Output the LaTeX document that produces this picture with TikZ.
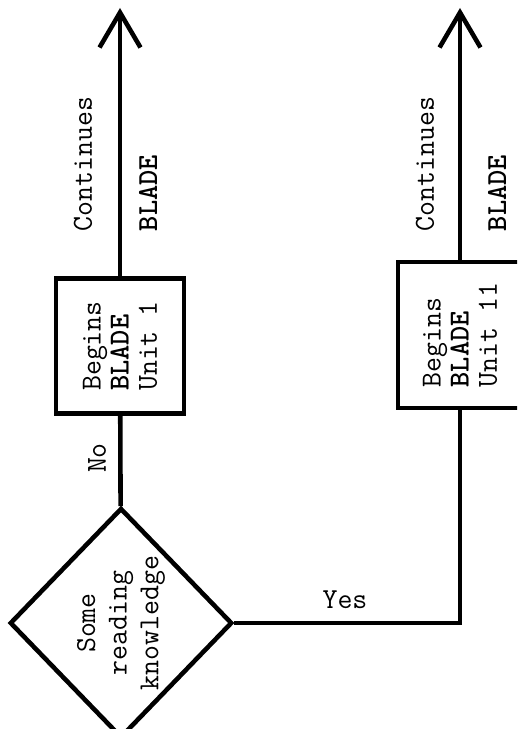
\documentclass[tikz,border=0pt]{standalone}
\usepackage{fontspec}
\usetikzlibrary{arrows.meta,shapes.geometric}

\begin{document}
\begin{tikzpicture}[
  x=0.02cm, y=-0.02cm,
  font=\ttfamily\fontsize{16.5}{16}\selectfont,
  line width=2.6pt,
  unitbox/.style={draw, rotate=90, align=left, minimum width=#1, inner sep=0pt},
  decision/.style={draw, diamond, rotate=90, align=center, minimum width=4.6cm,
                   minimum height=4.42cm, inner sep=0pt},
  tag/.style={rotate=90, inner sep=0pt},
  flow/.style={-{Straight Barb[length=7mm, width=8.2mm]}}
]
\useasboundingbox (0,0) rectangle (517,729);
\clip (0,0) rectangle (517,729);

\coordinate (top1) at (120,8);
\coordinate (top2) at (460,8);
\node[decision, font=\ttfamily\fontsize{16.5}{18}\selectfont] (know) at (121,623)
  {Some\\reading\\knowledge};
\node[unitbox=2.7cm, minimum height=2.56cm] (unit1) at (120,346)
  {Begins\\\textbf{BLADE}\\Unit 1};
\node[unitbox=2.92cm, minimum height=2.48cm] (unit11) at (460,335)
  {Begins\\\textbf{BLADE}\\Unit 11};

% edge labels
\node[tag] (cont1) at (83,164) {Continues};
\node[tag] (blade1) at (148,193) {\textbf{BLADE}};
\node[tag] (cont11) at (425,164) {Continues};
\node[tag] (blade11) at (497,193) {\textbf{BLADE}};
\node[tag] (no) at (97,458) {No};
\node[inner sep=0pt] (yes) at (345,600) {Yes};

\draw (know) -- (unit1);
\draw[flow] (unit1) -- (top1);
\draw (know) -| (unit11);
\draw[flow] (unit11) -- (top2);
\end{tikzpicture}
\end{document}
